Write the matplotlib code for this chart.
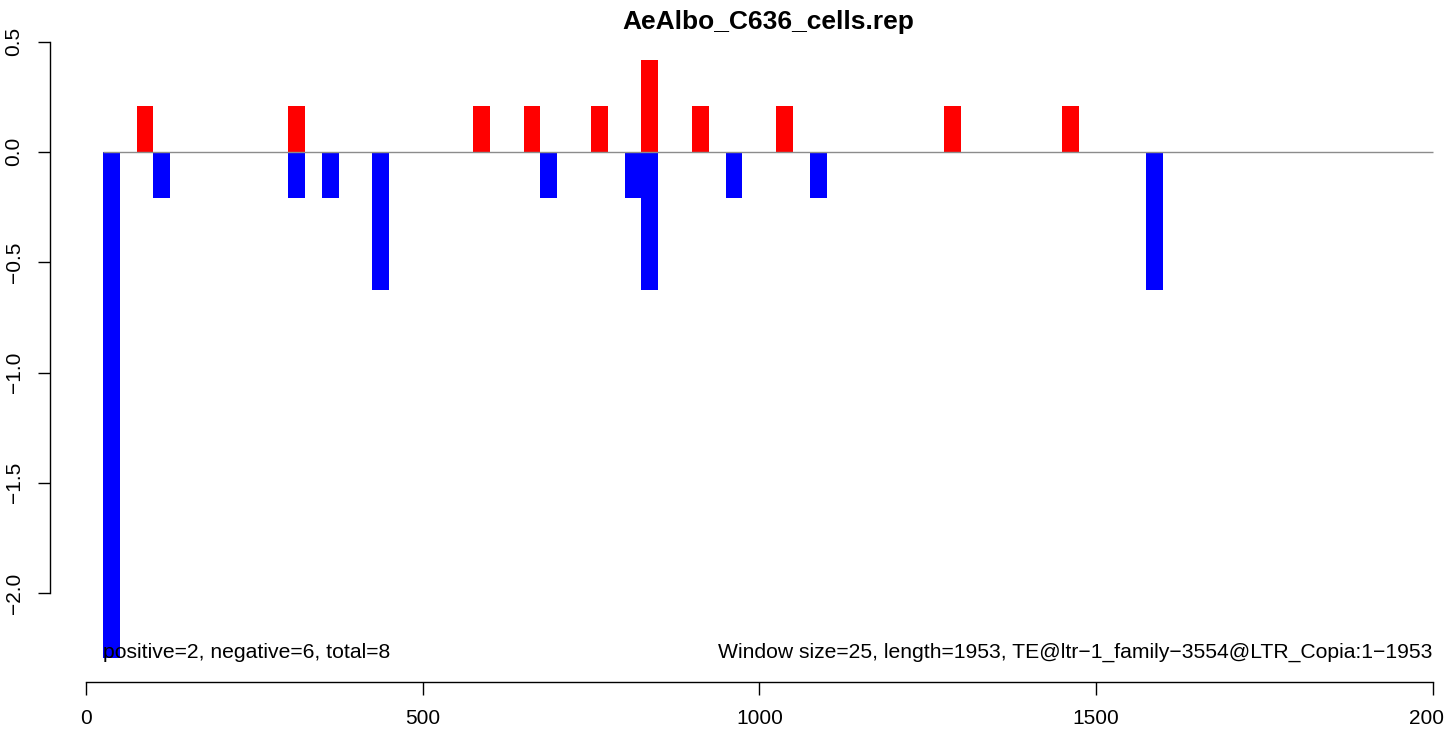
import matplotlib
matplotlib.use("Agg")
import matplotlib.pyplot as plt

plt.rcParams['font.family'] = ['Liberation Sans', 'DejaVu Sans']

# window starts (bp) and scaled counts, window size 25
pos_start = [75, 300, 575, 650, 750, 825, 900, 1025, 1275, 1450]
pos_value = [0.208, 0.208, 0.208, 0.208, 0.208, 0.417, 0.208, 0.208, 0.208, 0.208]
neg_start = [25, 100, 300, 350, 425, 675, 800, 825, 950, 1075, 1575]
neg_value = [-2.292, -0.208, -0.208, -0.208, -0.625, -0.208, -0.208, -0.625, -0.208, -0.208, -0.625]
window = 25
seq_len = 1953
title = "AeAlbo_C636_cells.rep"
left_note = "positive=2, negative=6, total=8"
right_note = "Window size=25, length=1953, TE@ltr\u22121_family\u22123554@LTR_Copia:1\u22121953"
xticks = [0, 500, 1000, 1500, 2000]
yticks = [-2.0, -1.5, -1.0, -0.5, 0.0, 0.5]

W, H = 1444, 729
fig = plt.figure(figsize=(W / 100, H / 100), dpi=100)
ax = fig.add_axes([50 / W, 1 - 681.7 / H, (W - 50) / W, (681.7 - 36) / H])

ax.bar(pos_start, pos_value, width=window, align='edge', color='red', linewidth=0)
ax.bar(neg_start, neg_value, width=window, align='edge', color='blue', linewidth=0)
ax.hlines(0, 25, 2000, color='#8c8c8c', linewidth=1.0)

ax.set_xlim(-53.5, 2016.9)
ax.set_ylim(-2.401, 0.525)

for s in ['top', 'right']:
    ax.spines[s].set_visible(False)
ax.spines['bottom'].set_bounds(0, 2000)
ax.spines['left'].set_bounds(-2.0, 0.5)
ax.spines['bottom'].set_linewidth(1.0)
ax.spines['left'].set_linewidth(1.0)

ax.set_xticks(xticks)
ax.set_xticklabels([str(t) for t in xticks])
ax.set_yticks(yticks)
ax.set_yticklabels(["%.1f" % t if t >= 0 else "\u2212%.1f" % -t for t in yticks])
ax.tick_params(axis='x', length=9, width=1.0, pad=11, labelsize=15)
ax.tick_params(axis='y', length=9, width=1.0, pad=10, labelsize=15, labelrotation=90)
for lab in ax.get_yticklabels():
    lab.set_va('center')

ax.text(25, min(neg_value), left_note, ha='left', va='baseline', fontsize=15.2)
ax.text(2000, min(neg_value), right_note, ha='right', va='baseline', fontsize=15.2)

fig.text(768 / W, 1 - 22 / H, title, ha='center', va='center', fontsize=19, fontweight='bold')

fig.savefig("out.png", dpi=100)
